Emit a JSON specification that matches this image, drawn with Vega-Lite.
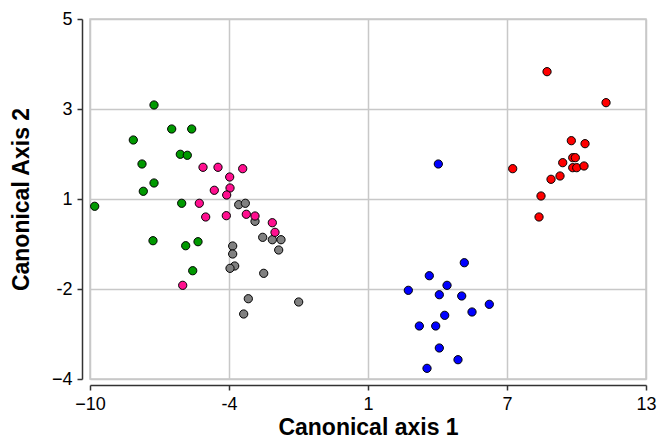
{
  "$schema": "https://vega.github.io/schema/vega-lite/v6.json",
  "width": 556,
  "height": 360,
  "autosize": "none",
  "padding": {"left": 90, "top": 19, "right": 13, "bottom": 63},
  "background": "#ffffff",
  "config": {"view": {"stroke": "#c8c8c8", "strokeWidth": 1.5}, "font": "Liberation Sans"},
  "data": {"values": [
    {"g": "green", "x": -9.806, "y": 0.318},
    {"g": "green", "x": -7.352, "y": 2.85},
    {"g": "green", "x": -8.209, "y": 1.975},
    {"g": "green", "x": -6.62, "y": 2.25},
    {"g": "green", "x": -5.793, "y": 2.25},
    {"g": "green", "x": -6.264, "y": 1.618},
    {"g": "green", "x": -5.975, "y": 1.593},
    {"g": "green", "x": -7.849, "y": 1.375},
    {"g": "green", "x": -7.352, "y": 0.9},
    {"g": "green", "x": -7.795, "y": 0.693},
    {"g": "green", "x": -6.207, "y": 0.393},
    {"g": "green", "x": -7.394, "y": -0.543},
    {"g": "green", "x": -6.041, "y": -0.668},
    {"g": "green", "x": -5.532, "y": -0.568},
    {"g": "green", "x": -5.751, "y": -1.293},
    {"g": "gray", "x": -3.848, "y": 0.358},
    {"g": "gray", "x": -3.575, "y": 0.393},
    {"g": "gray", "x": -3.174, "y": -0.058},
    {"g": "gray", "x": -2.856, "y": -0.458},
    {"g": "gray", "x": -2.458, "y": -0.518},
    {"g": "gray", "x": -2.099, "y": -0.518},
    {"g": "gray", "x": -2.194, "y": -0.775},
    {"g": "gray", "x": -4.097, "y": -0.675},
    {"g": "gray", "x": -4.097, "y": -0.875},
    {"g": "gray", "x": -4.014, "y": -1.175},
    {"g": "gray", "x": -4.208, "y": -1.233},
    {"g": "gray", "x": -2.814, "y": -1.358},
    {"g": "gray", "x": -3.451, "y": -1.993},
    {"g": "gray", "x": -3.642, "y": -2.375},
    {"g": "gray", "x": -1.367, "y": -2.075},
    {"g": "pink", "x": -5.325, "y": 1.293},
    {"g": "pink", "x": -4.705, "y": 1.293},
    {"g": "pink", "x": -3.683, "y": 1.258},
    {"g": "pink", "x": -4.221, "y": 1.05},
    {"g": "pink", "x": -4.208, "y": 0.775},
    {"g": "pink", "x": -4.858, "y": 0.718},
    {"g": "pink", "x": -4.345, "y": 0.6},
    {"g": "pink", "x": -5.478, "y": 0.393},
    {"g": "pink", "x": -5.214, "y": 0.05},
    {"g": "pink", "x": -4.361, "y": 0.083},
    {"g": "pink", "x": -3.534, "y": 0.118},
    {"g": "pink", "x": -3.174, "y": 0.075},
    {"g": "pink", "x": -2.458, "y": -0.093},
    {"g": "pink", "x": -2.347, "y": -0.333},
    {"g": "pink", "x": -6.165, "y": -1.658},
    {"g": "blue", "x": 4.409, "y": 1.375},
    {"g": "blue", "x": 5.484, "y": -1.093},
    {"g": "blue", "x": 4.036, "y": -1.418},
    {"g": "blue", "x": 4.769, "y": -1.658},
    {"g": "blue", "x": 3.168, "y": -1.783},
    {"g": "blue", "x": 4.45, "y": -1.893},
    {"g": "blue", "x": 5.377, "y": -1.925},
    {"g": "blue", "x": 6.518, "y": -2.133},
    {"g": "blue", "x": 5.803, "y": -2.325},
    {"g": "blue", "x": 4.673, "y": -2.408},
    {"g": "blue", "x": 3.623, "y": -2.675},
    {"g": "blue", "x": 4.301, "y": -2.675},
    {"g": "blue", "x": 4.45, "y": -3.225},
    {"g": "blue", "x": 5.223, "y": -3.518},
    {"g": "blue", "x": 3.941, "y": -3.733},
    {"g": "red", "x": 8.906, "y": 3.683},
    {"g": "red", "x": 11.347, "y": 2.908},
    {"g": "red", "x": 9.911, "y": 1.958},
    {"g": "red", "x": 10.478, "y": 1.883},
    {"g": "red", "x": 9.969, "y": 1.533},
    {"g": "red", "x": 10.077, "y": 1.533},
    {"g": "red", "x": 9.555, "y": 1.408},
    {"g": "red", "x": 9.969, "y": 1.283},
    {"g": "red", "x": 10.134, "y": 1.283},
    {"g": "red", "x": 10.436, "y": 1.325},
    {"g": "red", "x": 7.486, "y": 1.258},
    {"g": "red", "x": 9.443, "y": 1.075},
    {"g": "red", "x": 9.071, "y": 0.993},
    {"g": "red", "x": 8.657, "y": 0.575},
    {"g": "red", "x": 8.575, "y": 0.05}
  ]},
  "mark": {"type": "circle", "size": 68, "stroke": "#000000", "strokeWidth": 1, "opacity": 1},
  "encoding": {
    "x": {
      "field": "x", "type": "quantitative",
      "scale": {"domain": [-10, 13], "nice": false, "zero": false},
      "axis": {
        "values": [-10, -4.25, 1.5, 7.25, 13],
        "labelExpr": "datum.value == -4.25 ? '-4' : datum.value == 1.5 ? '1' : datum.value == 7.25 ? '7' : format(datum.value, 'd')",
        "title": "Canonical axis 1",
        "offset": 6,
        "grid": true, "gridColor": "#c8c8c8", "gridWidth": 1.5,
        "domainColor": "#333333", "domainWidth": 1.5,
        "tickColor": "#333333", "tickWidth": 1.5, "tickSize": 5,
        "labelFont": "Liberation Sans", "labelFontSize": 18, "labelColor": "#000000", "labelPadding": 5,
        "labelFlush": false, "labelOverlap": false,
        "titleFont": "Liberation Sans", "titleFontSize": 23, "titleFontWeight": "bold", "titleColor": "#000000", "titlePadding": 3
      }
    },
    "y": {
      "field": "y", "type": "quantitative",
      "scale": {"domain": [-4, 5], "nice": false, "zero": false},
      "axis": {
        "values": [-4, -1.75, 0.5, 2.75, 5],
        "labelExpr": "datum.value == -1.75 ? '-2' : datum.value == 0.5 ? '1' : datum.value == 2.75 ? '3' : format(datum.value, 'd')",
        "title": "Canonical Axis 2",
        "offset": 8,
        "grid": true, "gridColor": "#c8c8c8", "gridWidth": 1.5,
        "domainColor": "#333333", "domainWidth": 1.5,
        "tickColor": "#333333", "tickWidth": 1.5, "tickSize": 5,
        "labelFont": "Liberation Sans", "labelFontSize": 18, "labelColor": "#000000", "labelPadding": 5,
        "labelFlush": false, "labelOverlap": false,
        "titleFont": "Liberation Sans", "titleFontSize": 23, "titleFontWeight": "bold", "titleColor": "#000000", "titlePadding": 18
      }
    },
    "color": {
      "field": "g", "type": "nominal",
      "scale": {"domain": ["green", "gray", "pink", "blue", "red"], "range": ["#009900", "#808080", "#ff0f8f", "#0000ff", "#ff0000"]},
      "legend": null
    }
  }
}
